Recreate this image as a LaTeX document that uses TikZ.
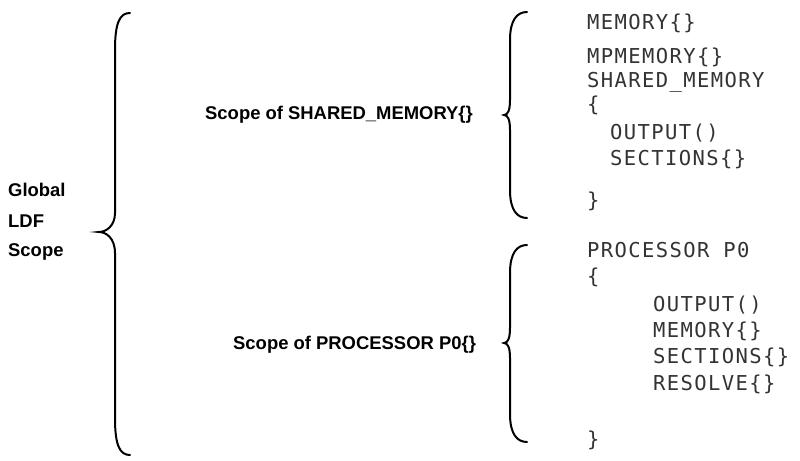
\documentclass[tikz,border=0pt]{standalone}
\usepackage{fontspec}
\setmainfont{Liberation Sans}
\newfontfamily\codefont[LetterSpace=6.8]{DejaVu Sans Mono}

\begin{document}
\begin{tikzpicture}[x=1bp, y=-1bp, line cap=round]

    % let's define some key values
    \def\xc{587}
    \def\xi{610}
    \def\xj{653}
    \useasboundingbox (0,0) rectangle (800,461);

    % Styles
    \tikzstyle{label}=[font=\fontsize{18.5}{22}\selectfont\bfseries, anchor=base west, inner sep=0pt]
    \tikzstyle{code}=[font=\codefont\fontsize{20.6}{24}\selectfont, anchor=base west, inner sep=0pt, text=black!80]
    \tikzstyle{brace}=[line width=2bp]

    % global scope
    \node[label] (global) at (8,197) {Global};
    \node[label] (ldf) at (8,228) {LDF};
    \node[label] (scope) at (8,257) {Scope};
    \draw[brace] (130,13) .. controls (120,13) and (115,22) .. (115,50)
        -- (115,213) .. controls (115,226) and (106,232) .. (99,232)
        .. controls (106,232) and (115,238) .. (115,253)
        -- (115,418) .. controls (115,446) and (120,455) .. (130,455);

    % shared memory scope
    \node[label] (shlabel) at (205,120) {Scope of SHARED\_MEMORY\{\}};
    \draw[brace] (527,12) .. controls (517,12) and (510,20) .. (510,40)
        -- (510,100) .. controls (510,110) and (508,115) .. (504,115)
        .. controls (508,115) and (510,120) .. (510,130)
        -- (510,190) .. controls (510,210) and (517,218) .. (527,218);

    % processor scope
    \node[label] (prlabel) at (233,350) {Scope of PROCESSOR P0\{\}};
    \draw[brace] (527,245) .. controls (517,245) and (510,253) .. (510,273)
        -- (510,328) .. controls (510,338) and (508,343) .. (504,343)
        .. controls (508,343) and (510,348) .. (510,358)
        -- (510,414) .. controls (510,434) and (517,442) .. (527,442);

    % commands
    \node[code] (mem) at (\xc,30) {MEMORY\{\}};
    \node[code] (mpmem) at (\xc,64) {MPMEMORY\{\}};
    \node[code] (shmem) at (\xc,88) {SHARED\_MEMORY};
    \node[code] (shopen) at (\xc,112) {\{};
    \node[code] (shout) at (\xi,140) {OUTPUT()};
    \node[code] (shsec) at (\xi,166) {SECTIONS\{\}};
    \node[code] (shclose) at (\xc,208) {\}};

    \node[code] (proc) at (\xc,258) {PROCESSOR P0};
    \node[code] (propen) at (\xc,284) {\{};
    \node[code] (prout) at (\xj,312) {OUTPUT()};
    \node[code] (prmem) at (\xj,338) {MEMORY\{\}};
    \node[code] (prsec) at (\xj,364) {SECTIONS\{\}};
    \node[code] (prres) at (\xj,390) {RESOLVE\{\}};
    \node[code] (prclose) at (\xc,446) {\}};

\end{tikzpicture}
\end{document}
